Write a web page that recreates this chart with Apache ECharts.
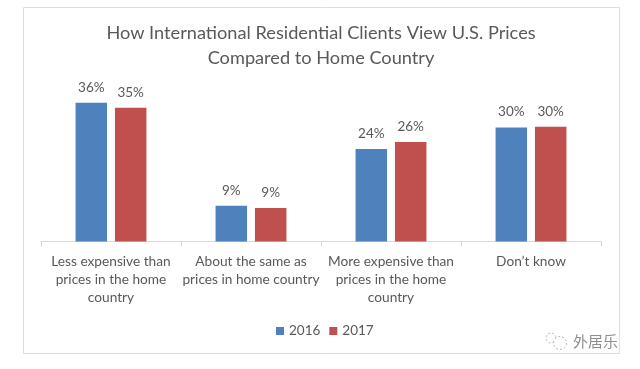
<!DOCTYPE html>
<html>
<head>
<meta charset="utf-8">
<style>
  html, body { margin: 0; padding: 0; background: #fff; }
  #chart { width: 640px; height: 369px; }
</style>
<script src="https://cdn.jsdelivr.net/npm/echarts@6/dist/echarts.min.js"></script>
</head>
<body>
<div id="chart"></div>
<script>
const categories = [
  'Less expensive than\nprices in the home\ncountry',
  'About the same as\nprices in home country',
  'More expensive than\nprices in the home\ncountry',
  'Don\u2019t know',
];
const values2016 = [36, 9.3, 24, 29.6];
const values2017 = [34.7, 8.7, 25.8, 29.8];
const titleText = 'How International Residential Clients View U.S. Prices\nCompared to Home Country';

const textColor = '#595959';
const chart = echarts.init(document.getElementById('chart'));

const barLabel = {
  show: true,
  position: 'top',
  distance: 8.5,
  color: textColor,
  fontSize: 13.5,
  formatter: (p) => Math.round(p.value) + '%',
};

chart.setOption({
  animation: false,
  textStyle: { fontFamily: 'Lato' },
  title: {
    text: titleText,
    left: 316,
    top: 16,
    textAlign: 'center',
    textStyle: {
      color: textColor,
      fontFamily: 'Lato',
      fontSize: 18.2,
      fontWeight: 'normal',
      lineHeight: 25,
    },
  },
  legend: {
    data: ['2016', '2017'],
    top: 319,
    left: 271,
    itemWidth: 8,
    itemHeight: 8,
    itemGap: 9,
    icon: 'rect',
    textStyle: { color: textColor, fontSize: 13.5, padding: [0, 0, 0, 0] },
  },
  grid: { left: 41, right: 39, top: 62, bottom: 127.5 },
  xAxis: {
    type: 'category',
    data: categories,
    axisLine: { lineStyle: { color: '#d9d9d9' } },
    axisTick: { show: true, length: 5, lineStyle: { color: '#d9d9d9' } },
    axisLabel: {
      color: textColor,
      fontSize: 13.7,
      lineHeight: 18,
      margin: 11,
      interval: 0,
      verticalAlign: 'top',
    },
  },
  yAxis: { type: 'value', min: 0, max: 46.6, show: false },
  series: [
    {
      name: '2016',
      type: 'bar',
      data: values2016,
      barWidth: 31.5,
      barGap: '25%',
      itemStyle: { color: '#4f81bd' },
      label: barLabel,
    },
    {
      name: '2017',
      type: 'bar',
      data: values2017,
      barWidth: 31.5,
      itemStyle: { color: '#c0504d' },
      label: barLabel,
    },
  ],
  graphic: [
    // chart frame
    {
      type: 'rect',
      silent: true,
      shape: { x: 23.5, y: 7.5, width: 596, height: 346 },
      style: { fill: 'none', stroke: '#dedede', lineWidth: 1 },
    },
    // watermark
    {
      type: 'text',
      x: 573,
      y: 334,
      style: {
        text: '外居乐',
        fill: '#8f8f8f',
        font: '15px "Noto Sans CJK SC"',
      },
    },
    {
      type: 'circle',
      silent: true,
      shape: { cx: 551, cy: 338, r: 5 },
      style: { fill: '#fff', stroke: '#b5b5b5', lineWidth: 1, lineDash: [2, 2] },
    },
    {
      type: 'circle',
      silent: true,
      shape: { cx: 560, cy: 343, r: 6.5 },
      style: { fill: '#fff', stroke: '#b5b5b5', lineWidth: 1, lineDash: [2, 2] },
    },
  ],
});
</script>
</body>
</html>
